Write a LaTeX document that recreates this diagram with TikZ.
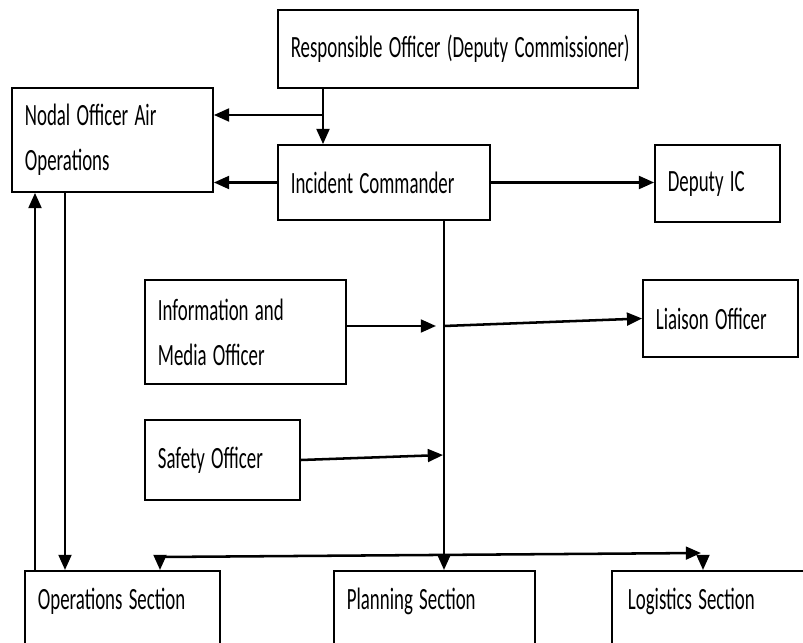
\documentclass[tikz,border=0pt]{standalone}
\usepackage{graphicx}
\usepackage{fontspec}
\setmainfont{Carlito}
\usetikzlibrary{arrows.meta,calc}

\newcommand{\nw}[1]{\scalebox{0.61}[1]{#1}}
\tikzset{
  box/.style={draw,line width=1.2pt,inner xsep=0.32cm,align=left,
    font=\fontsize{22}{32}\selectfont,anchor=center},
  arr/.style={line width=1.8pt,-{Triangle[length=0.38cm,width=0.32cm]}}
}

\begin{document}
\begin{tikzpicture}[x=0.025cm,y=-0.025cm]
\useasboundingbox (0,0) rectangle (803,643);
% boxes
\node [box,minimum width=9cm,minimum height=1.95cm,text width=8.36cm] (ro) at (458,49) {\nw{Responsible Officer (Deputy Commissioner)}};
\node [box,minimum width=5.025cm,minimum height=2.6cm,text width=4.38cm] (nodal) at (112.5,140) {\nw{Nodal Officer Air}\\\nw{Operations}};
\node [box,minimum width=5.3cm,minimum height=1.875cm,text width=4.66cm] (ic) at (384,182.5) {\nw{Incident Commander}};
\node [box,minimum width=3.125cm,minimum height=1.925cm,text width=2.48cm] (dic) at (717.5,183.5) {\nw{Deputy IC}};
\node [box,minimum width=5.025cm,minimum height=2.6cm,text width=4.38cm] (info) at (245.5,332) {\nw{Information and}\\\nw{Media Officer}};
\node [box,minimum width=3.875cm,minimum height=1.925cm,text width=3.23cm] (liaison) at (720.5,318.5) {\nw{Liaison Officer}};
\node [box,minimum width=3.875cm,minimum height=2cm,text width=3.23cm] (safety) at (222.5,460) {\nw{Safety Officer}};
\node [box,anchor=north,minimum width=4.875cm,text width=4.23cm,text height=0.85cm,text depth=1cm] (ops) at (122.5,570) {\nw{Operations Section}};
\node [box,anchor=north,minimum width=5.025cm,text width=4.38cm,text height=0.85cm,text depth=1cm] (plan) at (434.5,570) {\nw{Planning Section}};
\node [box,anchor=north,minimum width=5.2cm,text width=4.4cm,inner xsep=0.4cm,text height=0.85cm,text depth=1cm] (logi) at (716,570) {\nw{Logistics Section}};
% junctions
\coordinate (j1) at (323,115);
\coordinate (s1) at (444,326);
\coordinate (s2) at (443,455);
\coordinate (mi) at (436,326);
\coordinate (b1) at (160,557);
\coordinate (b2) at (701,553);
\coordinate (b3) at (703,560);
% connectors
\draw [arr] (j1 |- ro.south) -- (j1 |- ic.north);
\draw [arr] (j1) -- (j1 -| nodal.east);
\draw [arr] (ic.west) -- (ic.west -| nodal.east);
\draw [arr] (ic.east) -- (ic.east -| dic.west);
\draw [arr] (s1 |- ic.south) -- (s1 |- plan.north);
\draw [arr] (info.east |- mi) -- (mi);
\draw [arr] (s1) -- (liaison.west);
\draw [arr] (safety.east) -- (s2);
\draw [arr] (b1) -- (b2);
\draw [arr] (b1) -- (b1 |- ops.north);
\draw [arr] (b3) -- (b3 |- logi.north);
\draw [arr] (nodal.south -| 65,0) -- (ops.north -| 65,0);
\draw [arr] (ops.north -| 35,0) -- (nodal.south -| 35,0);
\end{tikzpicture}
\end{document}
